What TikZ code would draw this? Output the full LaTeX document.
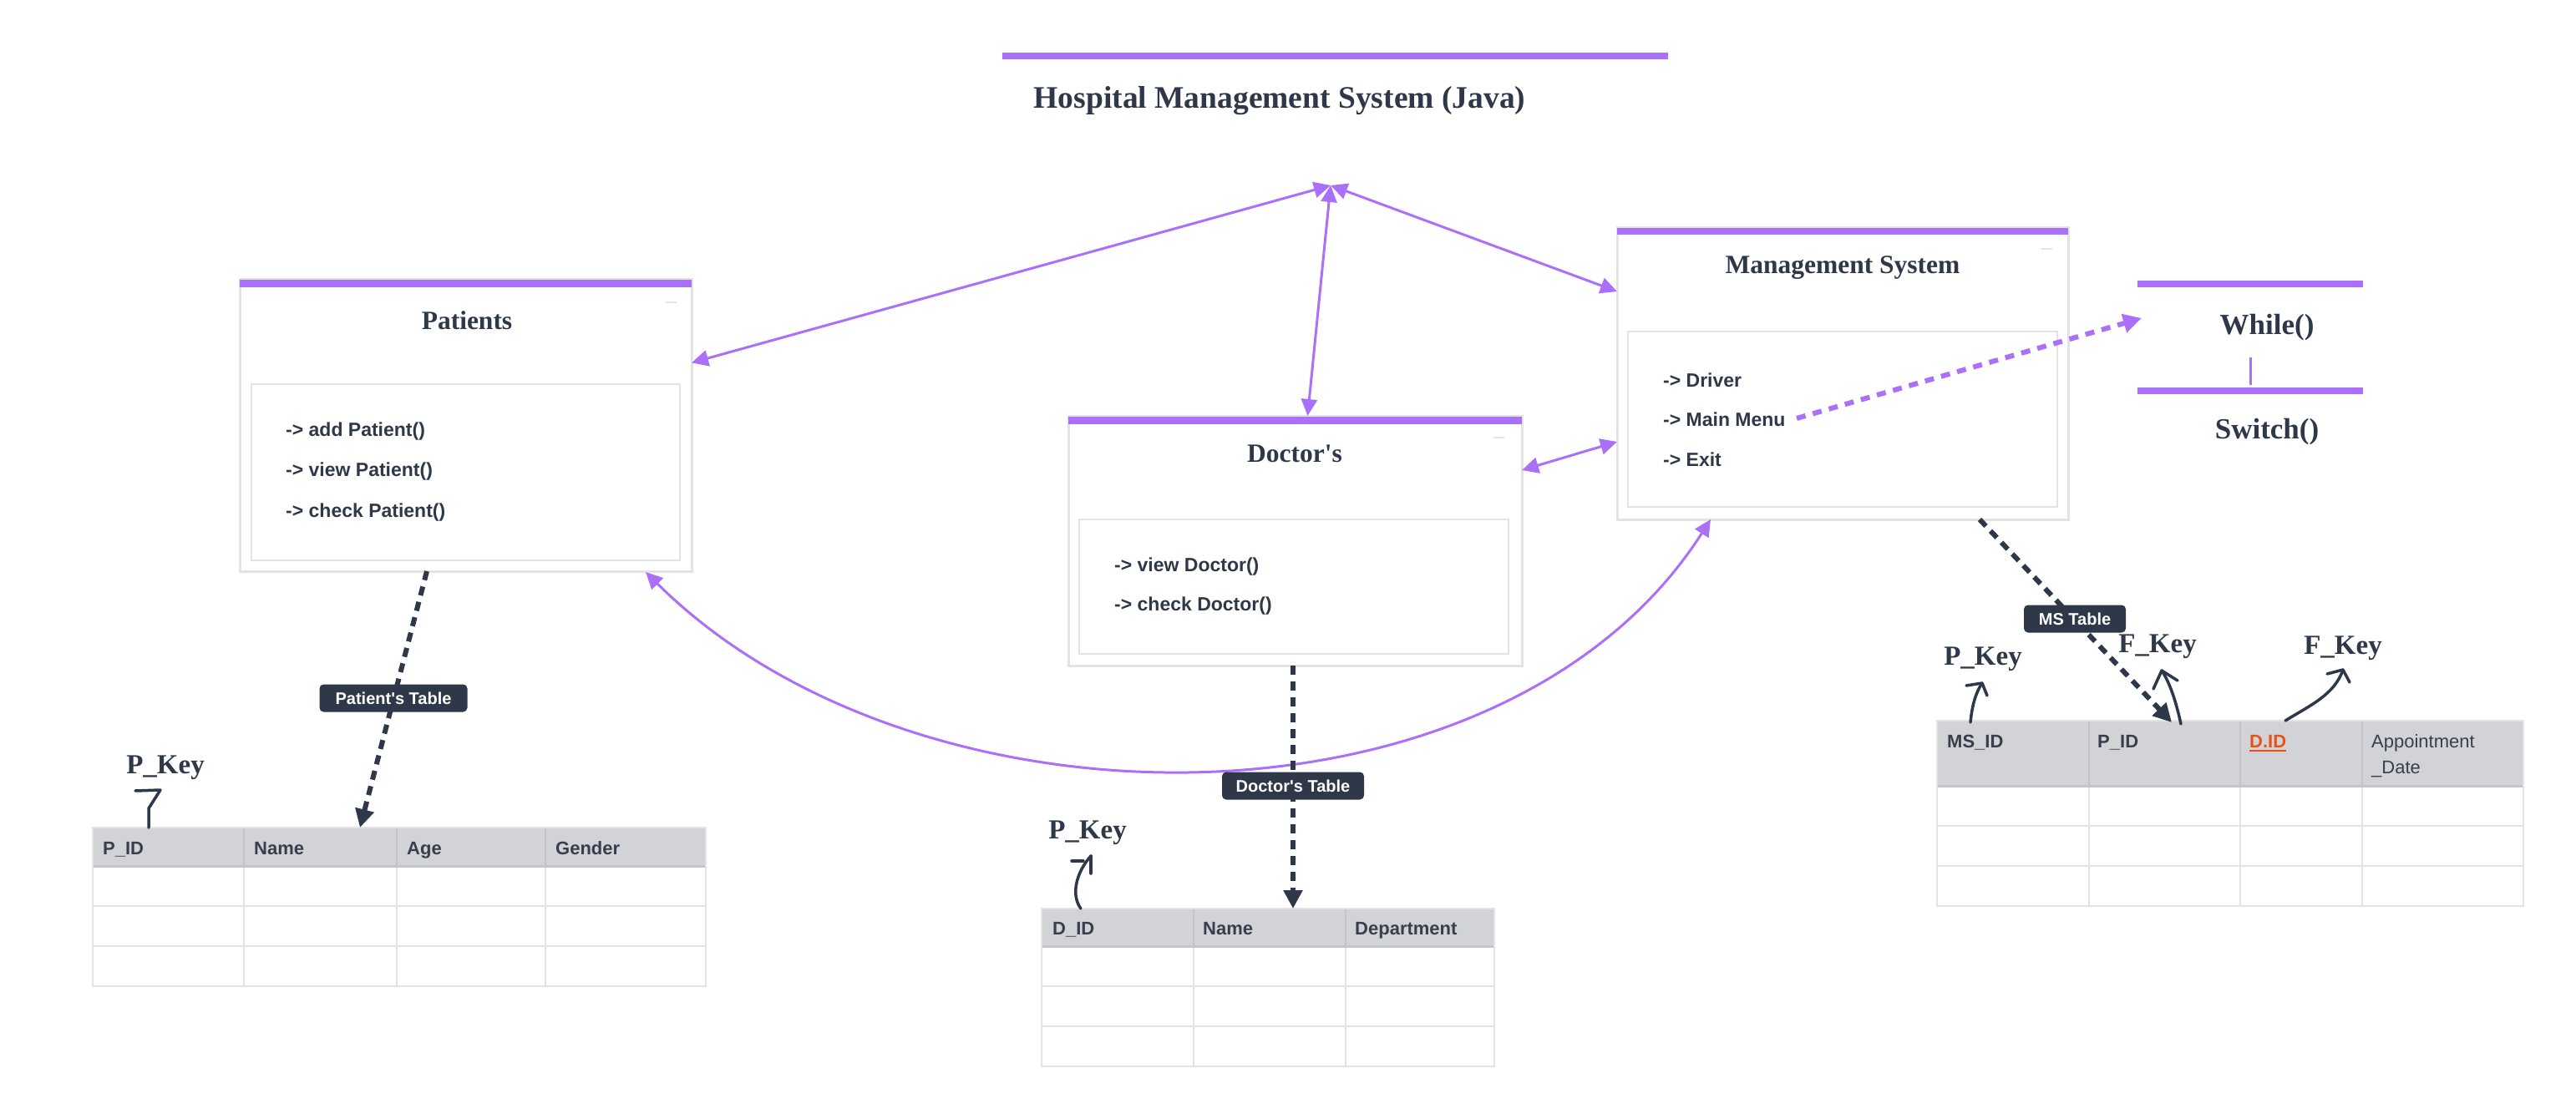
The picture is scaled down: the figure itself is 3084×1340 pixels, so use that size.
\documentclass[tikz,border=0pt]{standalone}
\usepackage{fontspec}
\setmainfont{Liberation Serif}[Ligatures=TeXOff]
\newfontfamily\uifont{Liberation Sans}[Ligatures=TeXOff]
\usetikzlibrary{arrows.meta,calc}
\definecolor{purp}{HTML}{AA70FA}
\definecolor{ink}{HTML}{2F3849}
\definecolor{edgec}{HTML}{E3E3E3}
\definecolor{hdr}{HTML}{D2D3D7}
\definecolor{hdrline}{HTML}{C3C5CA}
\definecolor{orng}{HTML}{E8521A}
\definecolor{htext}{HTML}{373F4F}
\begin{document}
\begin{tikzpicture}[x=1pt,y=-1pt,
  card/.style={draw=edgec,line width=3pt,fill=white,anchor=north west,inner sep=0pt,outer sep=0pt},
  innerbox/.style={draw=edgec,line width=2.5pt,anchor=north west,inner sep=0pt,outer sep=0pt},
  heading/.style={font=\fontsize{31.5}{37}\selectfont\bfseries,text=ink},
  bigheading/.style={font=\fontsize{37.5}{44}\selectfont\bfseries,text=ink},
  loophead/.style={font=\fontsize{35}{42}\selectfont\bfseries,text=ink},
  keylabel/.style={font=\fontsize{33}{40}\selectfont\bfseries,text=ink},
  item/.style={font=\uifont\fontsize{23}{28}\selectfont\bfseries,text=ink,anchor=west,inner sep=0pt},
  colhead/.style={font=\uifont\fontsize{22}{27}\selectfont\bfseries,text=htext,anchor=base west,inner sep=0pt},
  colheadlight/.style={font=\uifont\fontsize{22}{27}\selectfont,text=htext,anchor=base west,inner sep=0pt},
  tag/.style={fill=ink,text=white,rounded corners=5pt,font=\uifont\fontsize{20}{24}\selectfont\bfseries,minimum height=33pt,inner xsep=8pt},
  parrow/.style={draw=purp,line width=3pt,arrows={Triangle[length=20pt,width=19pt]-Triangle[length=20pt,width=19pt]}},
  dconn/.style={draw=ink,line width=6pt,dash pattern=on 11pt off 8pt,-{Triangle[length=22pt,width=22pt]}},
  pdash/.style={draw=purp,line width=6pt,dash pattern=on 11pt off 9pt,-{Triangle[length=22pt,width=22pt]}},
  hook/.style={draw=ink,line width=3.5pt,line cap=round,line join=round},
  minim/.style={draw=edgec,line width=2pt},
  gridline/.style={draw=edgec,line width=2.5pt},
  hdrsep/.style={draw=hdrline,line width=2pt},
]
\useasboundingbox (0,0) rectangle (3084,1340);
\fill[white] (0,0) rectangle (3084,1340);

% ---------- title ----------
\fill[purp] (1200,63) rectangle (1997,71);
\node[bigheading] (title) at (1532,121) {Hospital Management System (Java)};
\coordinate (hub) at (1593,222);

% ---------- Patients card ----------
\node[card,minimum width=541pt,minimum height=350pt] (patients) at (287,334) {};
\fill[purp] (287,335) rectangle (828,344);
\draw[minim] (797,362) -- (810,362);
\node[heading] (patientsT) at (559,384) {Patients};
\node[innerbox,minimum width=513pt,minimum height=211pt] (patientsIn) at (301,460) {};
\node[item] (pi1) at (342,517) {-> add Patient()};
\node[item] (pi2) at (342,565) {-> view Patient()};
\node[item] (pi3) at (342,614) {-> check Patient()};

% ---------- Doctor's card ----------
\node[card,minimum width=543pt,minimum height=299pt] (doctor) at (1279,498) {};
\fill[purp] (1279,499) rectangle (1822,508);
\draw[minim] (1788,524) -- (1801,524);
\node[heading] (doctorT) at (1550,543) {Doctor's};
\node[innerbox,minimum width=514pt,minimum height=161pt] (doctorIn) at (1292,622) {};
\node[item] (di1) at (1334,679) {-> view Doctor()};
\node[item] (di2) at (1334,726) {-> check Doctor()};

% ---------- Management System card ----------
\node[card,minimum width=540pt,minimum height=349pt] (ms) at (1936,273) {};
\fill[purp] (1936,273) rectangle (2476,281);
\draw[minim] (2444,298) -- (2457,298);
\node[heading] (msT) at (2206,321) {Management System};
\node[innerbox,minimum width=514pt,minimum height=210pt] (msIn) at (1949,397) {};
\node[item] (mi1) at (1991,455) {-> Driver};
\node[item] (mi2) at (1991,502) {-> Main Menu};
\node[item] (mi3) at (1991,550) {-> Exit};

% ---------- While / Switch ----------
\fill[purp] (2559,336) rectangle (2829,344);
\node[loophead] (whileT) at (2714,392) {While()};
\draw[purp,line width=3pt] (2694,428) -- (2694,461);
\fill[purp] (2559,464) rectangle (2829,472);
\node[loophead] (switchT) at (2714,517) {Switch()};
\coordinate (whileIn) at (2564,381);

% ---------- Patients table ----------
\fill[hdr] (111,991) rectangle (845,1037);
\foreach \x in {292,475,653} \draw[hdrsep] (\x,991) -- (\x,1037);
\foreach \x in {292,475,653} \draw[gridline] (\x,1037) -- (\x,1181);
\foreach \y in {1085,1133} \draw[gridline] (111,\y) -- (845,\y);
\draw[hdrline,line width=3pt] (111,1037) -- (845,1037);
\draw[gridline] (111,991) rectangle (845,1181);
\node[colhead] (pc1) at (123,1023) {P\_ID};
\node[colhead] (pc2) at (304,1023) {Name};
\node[colhead] (pc3) at (487,1023) {Age};
\node[colhead] (pc4) at (665,1023) {Gender};
\coordinate (ptabIn) at (431,991);
\node[keylabel] (pkey1) at (198,919) {P\_Key};
\draw[hook] (178,991) -- (178,968) -- (192,946) -- (162,947);

% ---------- Doctor table ----------
\fill[hdr] (1247,1088) rectangle (1789,1133);
\foreach \x in {1429,1611} \draw[hdrsep] (\x,1088) -- (\x,1133);
\foreach \x in {1429,1611} \draw[gridline] (\x,1133) -- (\x,1277);
\foreach \y in {1181,1229} \draw[gridline] (1247,\y) -- (1789,\y);
\draw[hdrline,line width=3pt] (1247,1133) -- (1789,1133);
\draw[gridline] (1247,1088) rectangle (1789,1277);
\node[colhead] (dc1) at (1260,1119) {D\_ID};
\node[colhead] (dc2) at (1440,1119) {Name};
\node[colhead] (dc3) at (1622,1119) {Department};
\coordinate (dtabIn) at (1548,1088);
\node[keylabel] (pkey2) at (1302,997) {P\_Key};
\draw[hook] (1294,1088) .. controls (1282,1072) and (1288,1045) .. (1306,1025);
\draw[hook] (1306,1025) -- (1306,1046);
\draw[hook] (1283,1031) -- (1297,1031);

% ---------- MS table ----------
\fill[hdr] (2319,863) rectangle (3021,941);
\foreach \x in {2501,2682,2828} \draw[hdrsep] (\x,863) -- (\x,941);
\foreach \x in {2501,2682,2828} \draw[gridline] (\x,941) -- (\x,1085);
\foreach \y in {989,1037} \draw[gridline] (2319,\y) -- (3021,\y);
\draw[hdrline,line width=3pt] (2319,941) -- (3021,941);
\draw[gridline] (2319,863) rectangle (3021,1085);
\node[colhead] (mc1) at (2331,895) {MS\_ID};
\node[colhead] (mc2) at (2511,895) {P\_ID};
\node[colhead,text=orng] (mc3) at (2693,895) {D.ID};
\draw[orng,line width=2pt] (mc3.base west) ++(0,4) -- ++(44,0);
\node[colheadlight] (mc4) at (2839,895) {Appointment};
\node[colheadlight] (mc5) at (2839,926) {\_Date};
\coordinate (mtabIn) at (2600,865);
\node[keylabel] (pkey3) at (2374,789) {P\_Key};
\draw[hook] (2359,865) .. controls (2361,845) and (2365,830) .. (2373,818);
\draw[hook] (2354,821) -- (2373,818) -- (2379,833);
\node[keylabel] (fkey1) at (2583,774) {F\_Key};
\draw[hook] (2611,867) .. controls (2605,840) and (2598,818) .. (2588,803);
\draw[hook] (2578,825) -- (2588,803) -- (2607,815);
\node[keylabel] (fkey2) at (2805,776) {F\_Key};
\draw[hook] (2736,863) .. controls (2765,845) and (2795,832) .. (2805,802);
\draw[hook] (2786,807) -- (2805,802) -- (2813,817);

% ---------- purple connectors ----------
\draw[parrow] (hub) -- (patients);
\draw[parrow] (hub) -- (doctor);
\draw[parrow] (hub) -- (ms);
\coordinate (docE) at (1822,563);
\coordinate (msW) at (1936,529);
\draw[parrow] (docE) -- (msW);
\coordinate (patB) at (773,685);
\coordinate (msB) at (2048,622);
\draw[parrow] (patB) .. controls (1100,1010) and (1800,1010) .. (msB);
\coordinate (menuOut) at (2151,501);
\draw[pdash] (menuOut) -- (whileIn);

% ---------- dark dashed connectors ----------
\coordinate (patOut) at (511,684);
\draw[dconn] (patOut) -- (ptabIn);
\node[tag,minimum width=177pt] (tag1) at (471,836) {Patient's Table};
\coordinate (docOut) at (1548,797);
\draw[dconn] (docOut) -- (dtabIn);
\node[tag,minimum width=170pt] (tag2) at (1548,941) {Doctor's Table};
\coordinate (msOut) at (2370,622);
\draw[dconn] (msOut) -- (mtabIn);
\node[tag,minimum width=122pt] (tag3) at (2484,741) {MS Table};
\end{tikzpicture}
\end{document}
